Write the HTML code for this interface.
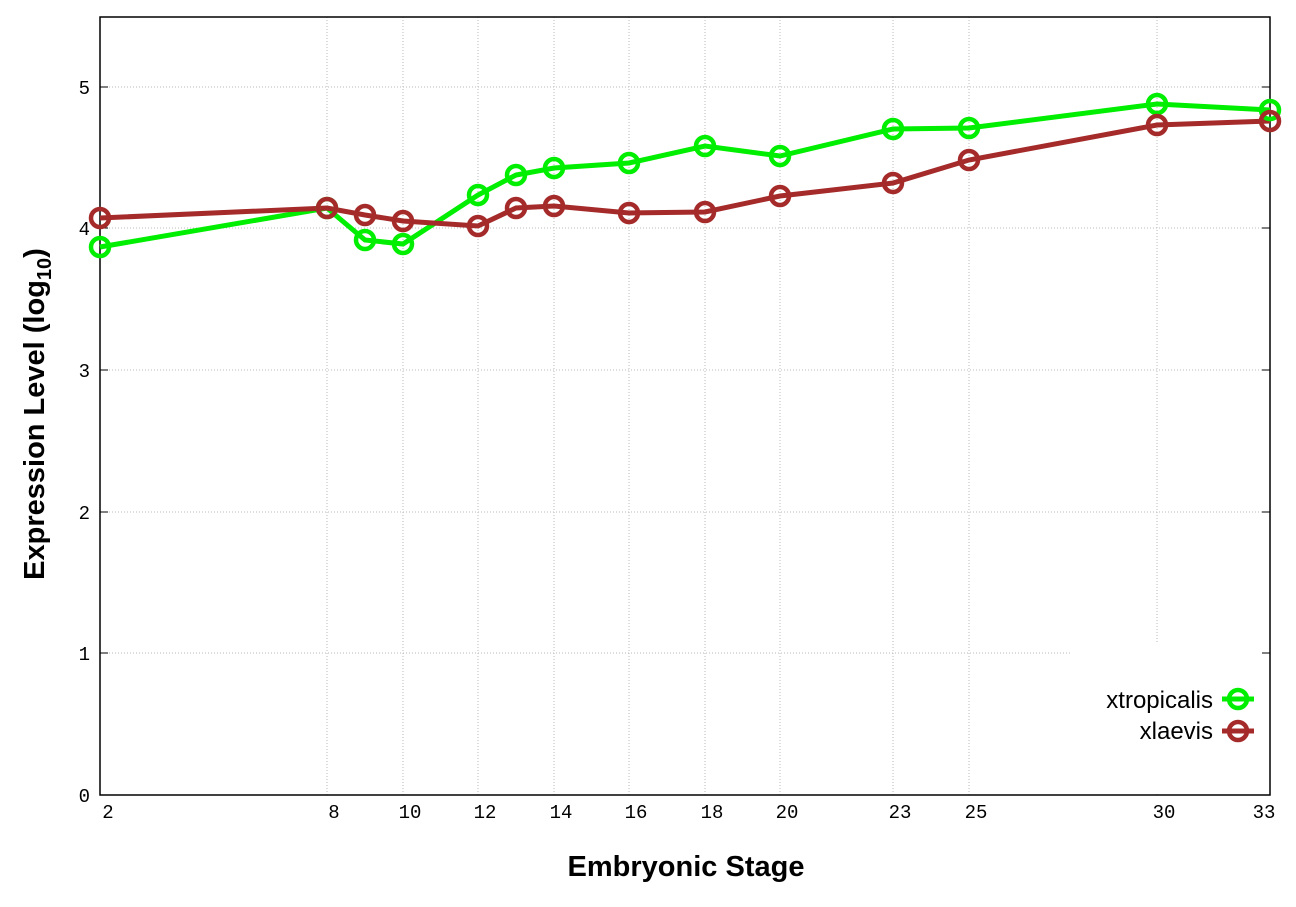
<!DOCTYPE html>
<html><head><meta charset="utf-8"><style>body{margin:0;background:#fff}svg{display:block}</style></head><body>
<svg width="1296" height="907" xmlns="http://www.w3.org/2000/svg">
<g stroke="#bbb" stroke-width="1" stroke-dasharray="1,2">
<line x1="100" x2="1270" y1="653" y2="653"/><line x1="100" x2="1270" y1="512" y2="512"/><line x1="100" x2="1270" y1="370" y2="370"/><line x1="100" x2="1270" y1="228" y2="228"/><line x1="100" x2="1270" y1="87" y2="87"/>
<line x1="327" x2="327" y1="17" y2="795"/><line x1="403" x2="403" y1="17" y2="795"/><line x1="478" x2="478" y1="17" y2="795"/><line x1="554" x2="554" y1="17" y2="795"/><line x1="629" x2="629" y1="17" y2="795"/><line x1="705" x2="705" y1="17" y2="795"/><line x1="780" x2="780" y1="17" y2="795"/><line x1="893" x2="893" y1="17" y2="795"/><line x1="969" x2="969" y1="17" y2="795"/><line x1="1157" x2="1157" y1="17" y2="795"/>
</g>
<rect x="1072" y="643" width="196" height="150" fill="#fff"/>
<rect x="100" y="17" width="1170" height="778" fill="none" stroke="#000" stroke-width="1.5"/>
<g stroke="#000" stroke-width="1">
<line x1="100" x2="108" y1="653" y2="653"/><line x1="100" x2="108" y1="512" y2="512"/><line x1="100" x2="108" y1="370" y2="370"/><line x1="100" x2="108" y1="228" y2="228"/><line x1="100" x2="108" y1="87" y2="87"/>
<line x1="1262" x2="1270" y1="653" y2="653"/><line x1="1262" x2="1270" y1="512" y2="512"/><line x1="1262" x2="1270" y1="370" y2="370"/><line x1="1262" x2="1270" y1="228" y2="228"/><line x1="1262" x2="1270" y1="87" y2="87"/>
</g>
<g font-family="Liberation Mono, monospace" font-size="19" fill="#000">
<g text-anchor="end"><text x="90" y="802">0</text><text x="90" y="660">1</text><text x="90" y="519">2</text><text x="90" y="377">3</text><text x="90" y="235">4</text><text x="90" y="94">5</text></g>
<g text-anchor="middle"><text x="108" y="818">2</text><text x="334" y="818">8</text><text x="410" y="818">10</text><text x="485" y="818">12</text><text x="561" y="818">14</text><text x="636" y="818">16</text><text x="712" y="818">18</text><text x="787" y="818">20</text><text x="900" y="818">23</text><text x="976" y="818">25</text><text x="1164" y="818">30</text><text x="1264" y="818">33</text></g>
</g>
<text x="686" y="876" text-anchor="middle" font-family="Liberation Sans, sans-serif" font-weight="bold" font-size="29">Embryonic Stage</text>
<text transform="translate(44,414) rotate(-90)" text-anchor="middle" font-family="Liberation Sans, sans-serif" font-weight="bold" font-size="29">Expression Level (log<tspan font-size="20" dy="7">10</tspan><tspan dy="-7">)</tspan></text>
<g fill="none" stroke-width="5">
<polyline stroke="#00ee00" points="100,247 327,208 365,240 403,244 478,195 516,175 554,168 629,163 705,146 780,156 893,129 969,128 1157,104 1270,110"/>
<polyline stroke="#a52a2a" points="100,218 327,208 365,215 403,221 478,226 516,208 554,206 629,213 705,212 780,196 893,183 969,160 1157,125 1270,121"/>
</g>
<g fill="none" stroke-width="4.5" stroke="#00ee00">
<circle cx="100" cy="247" r="9"/><circle cx="327" cy="208" r="9"/><circle cx="365" cy="240" r="9"/><circle cx="403" cy="244" r="9"/><circle cx="478" cy="195" r="9"/><circle cx="516" cy="175" r="9"/><circle cx="554" cy="168" r="9"/><circle cx="629" cy="163" r="9"/><circle cx="705" cy="146" r="9"/><circle cx="780" cy="156" r="9"/><circle cx="893" cy="129" r="9"/><circle cx="969" cy="128" r="9"/><circle cx="1157" cy="104" r="9"/><circle cx="1270" cy="110" r="9"/>
</g>
<g fill="none" stroke-width="4.5" stroke="#a52a2a">
<circle cx="100" cy="218" r="9"/><circle cx="327" cy="208" r="9"/><circle cx="365" cy="215" r="9"/><circle cx="403" cy="221" r="9"/><circle cx="478" cy="226" r="9"/><circle cx="516" cy="208" r="9"/><circle cx="554" cy="206" r="9"/><circle cx="629" cy="213" r="9"/><circle cx="705" cy="212" r="9"/><circle cx="780" cy="196" r="9"/><circle cx="893" cy="183" r="9"/><circle cx="969" cy="160" r="9"/><circle cx="1157" cy="125" r="9"/><circle cx="1270" cy="121" r="9"/>
</g>
<g font-family="Liberation Sans, sans-serif" font-size="24" text-anchor="end">
<text x="1213" y="708">xtropicalis</text><text x="1213" y="739">xlaevis</text>
</g>
<line x1="1222" x2="1254" y1="699" y2="699" stroke="#00ee00" stroke-width="5"/><circle cx="1238" cy="699" r="9" fill="none" stroke="#00ee00" stroke-width="4.5"/>
<line x1="1222" x2="1254" y1="731" y2="731" stroke="#a52a2a" stroke-width="5"/><circle cx="1238" cy="731" r="9" fill="none" stroke="#a52a2a" stroke-width="4.5"/>
</svg>
</body></html>
